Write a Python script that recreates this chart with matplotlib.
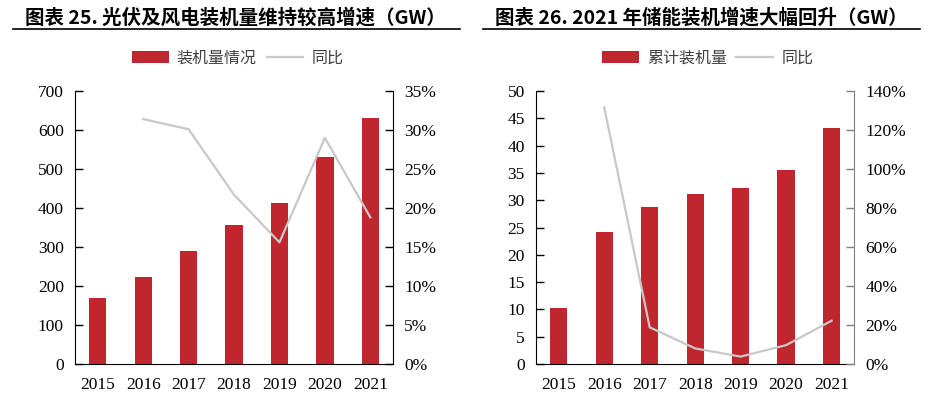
import matplotlib
matplotlib.use("Agg")
import matplotlib.pyplot as plt
import numpy as np
from matplotlib.ticker import FuncFormatter
from matplotlib.patches import Patch
from matplotlib.lines import Line2D

years = ["2015", "2016", "2017", "2018", "2019", "2020", "2021"]

# chart 25: wind + solar installed capacity (GW) and yoy growth
pv_wind_cap = [168, 223, 291, 356, 412, 532, 632]
pv_wind_yoy = [None, 31.4, 30.1, 21.7, 15.6, 29.0, 18.8]

# chart 26: energy storage cumulative capacity (GW) and yoy growth
storage_cap = [10.3, 24.1, 28.8, 31.1, 32.3, 35.5, 43.3]
storage_yoy = [None, 131.6, 18.8, 8.0, 3.8, 9.7, 22.2]

RED = "#C0262E"
GREY = "#C8C8C8"
CJK = ["Noto Sans CJK SC", "DejaVu Sans"]
SERIF = "Liberation Serif"

plt.rcParams["font.family"] = SERIF
plt.rcParams["font.size"] = 12.5

fig = plt.figure(figsize=(9.25, 3.94), dpi=100)

def pct(x, pos):
    return "%d%%" % round(x)

def draw(ax_rect, caps, yoy, ymax, ystep, pmax, pstep, title, bar_label, line_label,
         title_x, line_x0, line_x1, leg_x, right_spine_color):
    ax = fig.add_axes(ax_rect)
    x = np.arange(len(years))
    ax.bar(x, caps, width=0.38, color=RED, zorder=2)
    ax.set_xlim(-0.5, len(years) - 0.5)
    ax.set_ylim(0, ymax)
    ax.set_yticks(np.arange(0, ymax + 0.01, ystep))
    ax.set_xticks(x)
    ax.set_xticklabels(years)
    ax.spines["top"].set_visible(False)
    ax.spines["right"].set_visible(False)
    ax.tick_params(axis="y", direction="in", length=6, width=1, pad=8)
    ax.tick_params(axis="x", length=0, pad=9)

    ax2 = ax.twinx()
    xs = [i for i, v in enumerate(yoy) if v is not None]
    ys = [v for v in yoy if v is not None]
    ax2.plot(xs, ys, color=GREY, linewidth=1.6, zorder=3)
    ax2.set_ylim(0, pmax)
    ax2.set_yticks(np.arange(0, pmax + 0.01, pstep))
    ax2.yaxis.set_major_formatter(FuncFormatter(pct))
    ax2.spines["top"].set_visible(False)
    ax2.spines["left"].set_visible(False)
    ax2.spines["bottom"].set_visible(False)
    ax2.spines["right"].set_color(right_spine_color)
    ax2.tick_params(axis="y", direction="in", length=6, width=1, pad=8,
                    color=right_spine_color)

    fig.text(title_x, 0.954, title, family=CJK, fontsize=14, fontweight="bold",
             va="center", ha="left")
    fig.add_artist(Line2D([line_x0, line_x1], [0.926, 0.926], color="black",
                          linewidth=1.2, transform=fig.transFigure))

    handles = [Patch(facecolor=RED, edgecolor="none"),
               Line2D([], [], color=GREY, linewidth=1.6)]
    fig.legend(handles, [bar_label, line_label], loc="center",
               bbox_to_anchor=(leg_x, 0.853), ncol=2, frameon=False,
               prop={"family": CJK, "size": 11.5}, labelcolor="#404040",
               handlelength=2.3, handleheight=0.8, handletextpad=0.5,
               columnspacing=0.6)
    return ax

draw([0.0811, 0.0761, 0.3438, 0.6929], pv_wind_cap, pv_wind_yoy, 700, 100, 35, 5,
     "图表 25. 光伏及风电装机量维持较高增速（GW）", "装机量情况", "同比",
     0.027, 0.014, 0.497, 0.257, "black")
draw([0.5795, 0.0761, 0.3441, 0.6929], storage_cap, storage_yoy, 50, 5, 140, 20,
     "图表 26. 2021 年储能装机增速大幅回升（GW）", "累计装机量", "同比",
     0.535, 0.522, 0.995, 0.765, "#808080")

fig.savefig("out.png", dpi=100)
